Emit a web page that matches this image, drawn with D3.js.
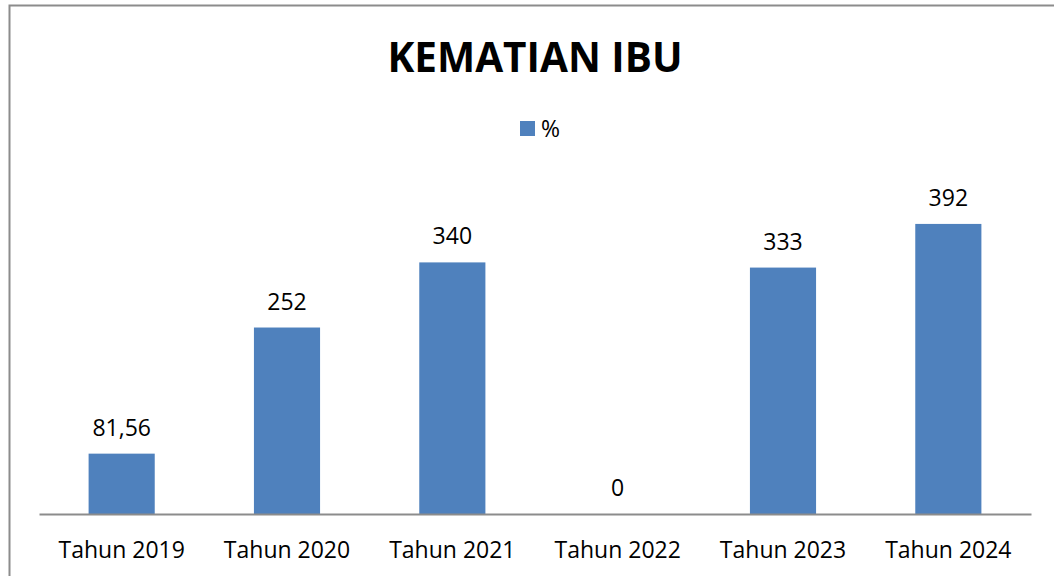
<!DOCTYPE html>
<html>
<head>
<meta charset="utf-8">
<script src="https://cdn.jsdelivr.net/npm/d3@7"></script>
<style>
  html, body { margin: 0; padding: 0; background: #fff; }
  svg { display: block; }
</style>
</head>
<body>
<svg id="chart" width="1054" height="576"></svg>
<script>
const categories = ["Tahun 2019", "Tahun 2020", "Tahun 2021", "Tahun 2022", "Tahun 2023", "Tahun 2024"];
const values = [81.56, 252, 340, 0, 333, 392];
const valueLabels = ["81,56", "252", "340", "0", "333", "392"];
const seriesName = "%";
const chartTitle = "KEMATIAN IBU";

const W = 1054, H = 576;
const svg = d3.select("#chart");
const font = "'Open Sans', 'Noto Sans', sans-serif";
const barColor = "#4F81BD";

// outer border
svg.append("rect")
  .attr("x", 9.5).attr("y", 5.5)
  .attr("width", 1060).attr("height", 600)
  .attr("fill", "#fff")
  .attr("stroke", "#8c8c8c")
  .attr("stroke-width", 2);

const plot = { left: 39, right: 1031, top: 181, bottom: 514 };

const x = d3.scaleBand()
  .domain(categories)
  .range([plot.left, plot.right])
  .paddingInner(0.6)
  .paddingOuter(0.3);

const y = d3.scaleLinear()
  .domain([0, 450])
  .range([plot.bottom, plot.top]);

// bars
svg.append("g").selectAll("rect")
  .data(values)
  .join("rect")
  .attr("x", (d, i) => x(categories[i]))
  .attr("y", d => y(d))
  .attr("width", x.bandwidth())
  .attr("height", d => y(0) - y(d))
  .attr("fill", barColor);

// x axis
const xAxis = d3.axisBottom(x).tickSize(0).tickPadding(0);
const gx = svg.append("g")
  .attr("transform", `translate(0,${plot.bottom})`)
  .call(xAxis);
gx.select(".domain")
  .attr("stroke", "#8c8c8c")
  .attr("stroke-width", 2);
gx.selectAll(".tick text")
  .attr("font-family", font)
  .attr("font-size", "23px")
  .attr("fill", "#000")
  .attr("dy", null)
  .attr("y", 44);

// value labels
svg.append("g").selectAll("text")
  .data(values)
  .join("text")
  .attr("x", (d, i) => x(categories[i]) + x.bandwidth() / 2)
  .attr("y", d => y(d) - 18)
  .attr("text-anchor", "middle")
  .attr("font-family", font)
  .attr("font-size", "23px")
  .attr("fill", "#000")
  .text((d, i) => valueLabels[i]);

// title
svg.append("text")
  .attr("x", 535)
  .attr("y", 72)
  .attr("text-anchor", "middle")
  .attr("font-family", font)
  .attr("font-weight", "bold")
  .attr("font-size", "40.5px")
  .attr("fill", "#000")
  .text(chartTitle);

// legend
const lg = svg.append("g");
lg.append("rect")
  .attr("x", 520).attr("y", 121)
  .attr("width", 15).attr("height", 15)
  .attr("fill", barColor);
lg.append("text")
  .attr("x", 541).attr("y", 137)
  .attr("font-family", font)
  .attr("font-size", "23px")
  .attr("fill", "#000")
  .text(seriesName);
</script>
</body>
</html>
